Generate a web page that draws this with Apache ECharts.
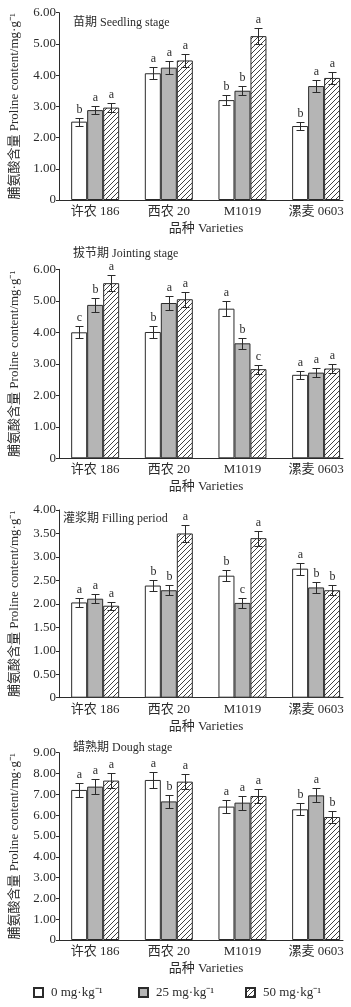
<!DOCTYPE html>
<html>
<head>
<meta charset="utf-8">
<script src="https://cdn.jsdelivr.net/npm/echarts@6/dist/echarts.min.js"></script>
<style>
  html, body { margin: 0; padding: 0; background: #fff; }
  #myChart { width: 351px; height: 1007px; }
</style>
</head>
<body>
<div id="myChart"></div>
<script>
// 品种
const categories = ['许农 186', '西农 20', 'M1019', '漯麦 0603']
// 处理 (legend)
const treatments = ['0 mg·kg⁻¹', '25 mg·kg⁻¹', '50 mg·kg⁻¹']
const stageTitles = ['苗期 Seedling stage', '拔节期 Jointing stage', '灌浆期 Filling period', '蜡熟期 Dough stage']
const yMax = [6, 6, 4, 9]
const yStep = [1, 1, 0.5, 1]

// rows = treatments (0 / 25 / 50), columns = categories
const seedlingMean = [[2.51, 4.06, 3.20, 2.37], [2.88, 4.24, 3.50, 3.65], [2.96, 4.47, 5.25, 3.91]]
const seedlingErr  = [[0.13, 0.19, 0.16, 0.12], [0.14, 0.20, 0.15, 0.19], [0.15, 0.22, 0.26, 0.20]]
const seedlingSig  = [['b', 'a', 'b', 'b'], ['a', 'a', 'b', 'a'], ['a', 'a', 'a', 'a']]

const jointingMean = [[4.00, 4.01, 4.75, 2.65], [4.87, 4.93, 3.65, 2.72], [5.56, 5.05, 2.83, 2.85]]
const jointingErr  = [[0.19, 0.18, 0.24, 0.12], [0.23, 0.22, 0.18, 0.14], [0.26, 0.24, 0.14, 0.13]]
const jointingSig  = [['c', 'b', 'a', 'a'], ['b', 'a', 'b', 'a'], ['a', 'a', 'c', 'a']]

const fillingMean = [[2.03, 2.39, 2.60, 2.75], [2.11, 2.29, 2.02, 2.35], [1.96, 3.50, 3.40, 2.29]]
const fillingErr  = [[0.09, 0.11, 0.12, 0.13], [0.10, 0.11, 0.10, 0.11], [0.09, 0.18, 0.16, 0.11]]
const fillingSig  = [['a', 'b', 'b', 'a'], ['a', 'b', 'c', 'b'], ['a', 'a', 'a', 'b']]

const doughMean = [[7.21, 7.69, 6.41, 6.28], [7.37, 6.66, 6.60, 6.95], [7.66, 7.61, 6.92, 5.91]]
const doughErr  = [[0.35, 0.38, 0.32, 0.29], [0.35, 0.32, 0.33, 0.34], [0.38, 0.37, 0.33, 0.30]]
const doughSig  = [['a', 'a', 'a', 'b'], ['a', 'b', 'a', 'a'], ['a', 'a', 'a', 'b']]

const stageMean = [seedlingMean, jointingMean, fillingMean, doughMean]
const stageErr = [seedlingErr, jointingErr, fillingErr, doughErr]
const stageSig = [seedlingSig, jointingSig, fillingSig, doughSig]

// layout
const gridTops = [12.7, 269.3, 510, 752.7]
const gridHeights = [187.3, 189, 187.7, 187.3]
const titlePos = [[73, 17], [73, 248], [63, 513], [73, 742]]
const legendLefts = [33, 138, 245]
const barW = 16
const capHalf = 4
const FONT = '"Liberation Serif", "Noto Sans CJK SC", serif'
const INK = '#2b2b2b'

// 斜线填充 "/"
function hatchCanvas() {
  const n = 5
  const c = document.createElement('canvas')
  c.width = n
  c.height = n
  const ctx = c.getContext('2d')
  ctx.fillStyle = '#fff'
  ctx.fillRect(0, 0, n, n)
  ctx.strokeStyle = INK
  ctx.lineWidth = 0.9
  ctx.beginPath()
  ctx.moveTo(-1, n + 1); ctx.lineTo(n + 1, -1)
  ctx.moveTo(-1, 1); ctx.lineTo(1, -1)
  ctx.moveTo(n - 1, n + 1); ctx.lineTo(n + 1, n - 1)
  ctx.stroke()
  return c
}

const barStyles = [
  { color: '#fff', borderColor: INK, borderWidth: 1 },
  { color: '#b5b5b5', borderColor: INK, borderWidth: 1 },
  { color: { image: hatchCanvas(), repeat: 'repeat' }, borderColor: INK, borderWidth: 1 }
]

const grid = []
const xAxis = []
const yAxis = []
const title = []
const series = []

stageMean.forEach((mean, p) => {
  grid.push({ left: 58, right: 8, top: gridTops[p], height: gridHeights[p] })
  title.push({
    text: stageTitles[p], left: titlePos[p][0], top: titlePos[p][1], padding: 0,
    textStyle: { fontFamily: FONT, fontSize: 12, fontWeight: 'normal', color: INK }
  })
  xAxis.push({
    type: 'value', gridIndex: p, min: -0.491, max: 3.365,
    name: '品种 Varieties', nameLocation: 'middle', nameGap: 22,
    nameTextStyle: { fontFamily: FONT, fontSize: 13, color: INK, padding: [0, 0, 0, 10] },
    axisLine: { show: true, onZero: false, lineStyle: { color: INK, width: 1 } },
    axisTick: { show: false },
    splitLine: { show: false },
    axisLabel: {
      customValues: [0, 1, 2, 3], margin: 5,
      formatter: v => categories[v] || '',
      fontFamily: FONT, fontSize: 13, color: INK
    }
  })
  yAxis.push({
    type: 'value', gridIndex: p, min: 0, max: yMax[p], interval: yStep[p],
    name: '脯氨酸含量 Proline content/mg·g⁻¹', nameLocation: 'middle', nameGap: 38,
    nameTextStyle: { fontFamily: FONT, fontSize: 13, color: INK },
    axisLine: { show: true, onZero: false, lineStyle: { color: INK, width: 1 } },
    axisTick: { show: true, length: 3, lineStyle: { color: INK } },
    splitLine: { show: false },
    axisLabel: {
      margin: 3, fontFamily: FONT, fontSize: 13, color: INK,
      formatter: v => v === 0 ? '0' : v.toFixed(2)
    }
  })

  mean.forEach((vals, s) => {
    series.push({
      name: treatments[s], type: 'bar', xAxisIndex: p, yAxisIndex: p,
      barWidth: barW, barGap: '0%',
      itemStyle: barStyles[s],
      data: vals.map((v, i) => [i, v]),
      silent: true
    })
  })

  const errData = []
  mean.forEach((vals, s) => vals.forEach((v, i) => errData.push([i, s, v, stageErr[p][s][i]])))
  series.push({
    type: 'custom', xAxisIndex: p, yAxisIndex: p, z: 5, silent: true,
    data: errData,
    renderItem: (params, api) => {
      const i = api.value(0), s = api.value(1), v = api.value(2), e = api.value(3)
      const top = api.coord([i, v + e])
      const bot = api.coord([i, v - e])
      const cx = Math.round(top[0] + (s - 1) * barW) + 0.5
      const ty = Math.round(top[1]) + 0.5
      const by = Math.round(bot[1]) + 0.5
      const ls = { stroke: INK, lineWidth: 1 }
      return {
        type: 'group',
        children: [
          { type: 'line', shape: { x1: cx, y1: ty, x2: cx, y2: by }, style: ls },
          { type: 'line', shape: { x1: cx - capHalf, y1: ty, x2: cx + capHalf, y2: ty }, style: ls },
          { type: 'line', shape: { x1: cx - capHalf, y1: by, x2: cx + capHalf, y2: by }, style: ls },
          {
            type: 'text',
            style: {
              text: stageSig[p][s][i], x: cx, y: ty - 3,
              textAlign: 'center', textVerticalAlign: 'bottom',
              font: '12px ' + FONT, fill: INK
            }
          }
        ]
      }
    }
  })
})

const legend = treatments.map((t, i) => ({
  data: [t], left: legendLefts[i], top: 986, padding: 0,
  icon: 'rect', itemWidth: 9, itemHeight: 9, selectedMode: false,
  textStyle: { fontFamily: FONT, fontSize: 13, color: INK, padding: [0, 0, 0, 3] }
}))

const myChart = echarts.init(document.getElementById('myChart'))
myChart.setOption({
  animation: false,
  backgroundColor: '#fff',
  title, grid, xAxis, yAxis, legend, series
})
window.addEventListener('resize', () => {
  myChart.resize()
})
</script>
</body>
</html>
